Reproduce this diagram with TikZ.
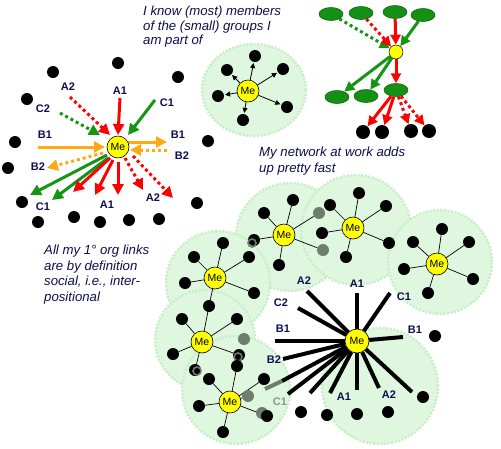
\documentclass[tikz,border=0pt]{standalone}
\usepackage{fontspec}
\setmainfont{Liberation Sans}
\usetikzlibrary{arrows.meta,shapes.geometric}
\pgfdeclarelayer{bg}\pgfdeclarelayer{mid}\pgfsetlayers{bg,mid,main}
\definecolor{myred}{RGB}{255,0,0}
\definecolor{mygreen}{RGB}{20,150,20}
\definecolor{myorange}{RGB}{255,170,20}
\definecolor{grpfill}{RGB}{222,247,222}
\definecolor{grpedge}{RGB}{200,238,200}
\definecolor{dotgray}{RGB}{110,125,110}
\definecolor{navy}{RGB}{15,15,80}
\definecolor{meyellow}{RGB}{255,255,0}
\definecolor{ovgreen}{RGB}{20,145,20}
\definecolor{ovedge}{RGB}{0,90,0}
\begin{document}
\begin{tikzpicture}[x=1pt,y=-1pt,
  dot/.style={circle,fill=black,inner sep=0pt,minimum size=12pt},
  gdot/.style={circle,fill=dotgray,inner sep=0pt,minimum size=12pt},
  ring/.style={circle,draw=dotgray,line width=1.6pt,inner sep=0pt,minimum size=8pt},
  me/.style={circle,draw=black,line width=0.6pt,fill=meyellow,inner sep=0pt,minimum size=22pt,font=\fontsize{10.5}{10.5}\selectfont},
  grp/.style={circle,fill=grpfill,draw=grpedge,line width=2.4pt,dash pattern=on 2pt off 1.6pt,inner sep=0pt},
  lbl/.style={font=\bfseries\fontsize{11}{11}\selectfont,text=navy,inner sep=0pt},
  note/.style={font=\itshape\fontsize{13.2}{14.5}\selectfont,text=navy,align=left,inner sep=0pt,anchor=north west},
  sarr/.style={line width=3pt,-{Triangle[length=11pt,width=11pt]}},
  darr/.style={sarr,dash pattern=on 3pt off 3pt},
  sarrs/.style={line width=3pt,-{Triangle[length=10pt,width=10pt]}},
  darrs/.style={sarrs,dash pattern=on 3pt off 3pt},
  link/.style={line width=0.7pt,draw=black},
  bar/.style={line width=4pt,draw=black},
  tinyarr/.style={line width=0.8pt,-{Triangle[length=5pt,width=5pt]},shorten >=1pt},
  oval/.style={ellipse,fill=ovgreen,draw=ovedge,line width=0.5pt,minimum width=24pt,minimum height=13pt,inner sep=0pt},
  ydot/.style={circle,fill=meyellow,draw=black,line width=0.5pt,inner sep=0pt,minimum size=14pt},
  bdot/.style={circle,fill=black,inner sep=0pt,minimum size=14pt}]
\useasboundingbox (0,0) rectangle (501,448);
\begin{pgfonlayer}{bg}
\fill[white] (0,0) rectangle (501,448);
\node[grp,ellipse,minimum width=104pt,minimum height=92pt] (g0) at (254,90) {};
\node[grp,minimum size=108pt] (g1) at (290,237) {};
\node[grp,minimum size=110pt] (g2) at (356,230) {};
\node[grp,minimum size=104pt] (g3) at (440,262) {};
\node[grp,minimum size=104pt] (g4) at (218,283) {};
\node[grp,minimum size=100pt] (g5) at (205,340) {};
\node[grp,minimum size=108pt] (g6) at (236,390) {};
\node[grp,minimum size=116pt] (g7) at (380,386) {};
\end{pgfonlayer}

% ---------- notes ----------
\node[note] (n1) at (143,6) {I know (most) members\\of the (small) groups I\\am part of};
\node[note,font=\itshape\fontsize{13.2}{16}\selectfont] (n2) at (259,147) {My network at work adds\\up pretty fast};
\node[note,font=\itshape\fontsize{13.2}{15.6}\selectfont] (n3) at (44,245) {All my 1° org links\\are by definition\\social, i.e., inter-\\positional};

% ---------- left cluster ----------
\node[me] (meL) at (118,147) {Me};
\node[dot] (dL1) at (53,72) {};
\node[dot] (dL2) at (118,63) {};
\node[dot] (dL3) at (178,77) {};
\node[dot] (dL4) at (27,99) {};
\node[dot] (dL5) at (15,142) {};
\node[dot] (dL6) at (8,168) {};
\node[dot] (dL7) at (22,202) {};
\node[dot] (dL8) at (38,222) {};
\node[dot] (dL9) at (74,217) {};
\node[dot] (dL10) at (100,222) {};
\node[dot] (dL11) at (129,220) {};
\node[dot] (dL12) at (159,219) {};
\node[dot] (dL13) at (197,203) {};
\node[dot] (dL14) at (208,141) {};
\node[lbl] (lA2) at (68,87) {A2};
\node[lbl] (lA1) at (120,91) {A1};
\node[lbl] (lC1) at (167,103) {C1};
\node[lbl] (lC2) at (43,109) {C2};
\node[lbl] (lB1) at (45,135) {B1};
\node[lbl] (lB1r) at (178,135) {B1};
\node[lbl] (lB2r) at (182,156) {B2};
\node[lbl] (lB2) at (38,167) {B2};
\node[lbl] (lC1b) at (43,207) {C1};
\node[lbl] (lA1b) at (107,205) {A1};
\node[lbl] (lA2b) at (153,198) {A2};
\coordinate (sa) at (70,97);   \coordinate (ta) at (110,135);
\coordinate (sb) at (120,98);  \coordinate (tb) at (118,135);
\coordinate (sc) at (155,100); \coordinate (tc) at (128,135);
\coordinate (sd) at (60,113);  \coordinate (td) at (100,135);
\coordinate (se) at (38,147);  \coordinate (te) at (105,147);
\coordinate (sf) at (128,142); \coordinate (tf) at (167,142);
\coordinate (sg) at (167,150); \coordinate (tg) at (130,150);
\coordinate (sh) at (103,153); \coordinate (th) at (47,168);
\coordinate (si) at (107,155); \coordinate (ti) at (30,195);
\coordinate (sj) at (108,158); \coordinate (tj) at (52,200);
\coordinate (sk) at (110,158); \coordinate (tk) at (73,192);
\coordinate (sl) at (113,160); \coordinate (tl) at (95,195);
\coordinate (sm) at (118,162); \coordinate (tm) at (118,195);
\coordinate (sn) at (125,158); \coordinate (tn) at (143,190);
\coordinate (so) at (133,156); \coordinate (to) at (173,198);
\begin{pgfonlayer}{mid}
\draw[darr,color=myred] (sa) -- (ta);
\draw[sarr,color=myred] (sb) -- (tb);
\draw[sarr,color=mygreen] (sc) -- (tc);
\draw[darr,color=mygreen] (sd) -- (td);
\draw[sarr,color=myorange] (se) -- (te);
\draw[sarr,color=myorange] (sf) -- (tf);
\draw[darr,color=myorange] (sg) -- (tg);
\draw[darr,color=myorange] (sh) -- (th);
\draw[sarr,color=mygreen] (si) -- (ti);
\draw[sarr,color=mygreen] (sj) -- (tj);
\draw[sarr,color=myred] (sk) -- (tk);
\draw[sarr,color=myred] (sl) -- (tl);
\draw[sarr,color=myred] (sm) -- (tm);
\draw[darr,color=myred] (sn) -- (tn);
\draw[darr,color=myred] (so) -- (to);
\end{pgfonlayer}

% ---------- small group (top middle) ----------
\node[me] (me0) at (248,91) {Me};
\node[dot] (t1) at (255,56) {};
\node[dot] (t2) at (283,69) {};
\node[dot] (t3) at (227,70) {};
\node[dot] (t4) at (218,96) {};
\node[dot] (t5) at (287,107) {};
\node[dot] (t6) at (243,120) {};
\foreach \k in {t1,t2,t3,t4,t5,t6} \draw[tinyarr] (me0) -- (\k);

% ---------- top right ----------
\node[oval] (e1) at (331,14) {};
\node[oval] (e2) at (361,13) {};
\node[oval] (e3) at (395,12) {};
\node[oval] (e4) at (423,15) {};
\node[ydot] (y0) at (396,52) {};
\node[oval] (e5) at (337,97) {};
\node[oval] (e6) at (366,96) {};
\node[oval] (e7) at (396,90) {};
\node[bdot] (b1) at (363,132) {};
\node[bdot] (b2) at (382,132) {};
\node[bdot] (b3) at (411,131) {};
\node[bdot] (b4) at (429,131) {};
\begin{pgfonlayer}{mid}
\draw[darrs,color=mygreen] (e1) -- (y0);
\draw[darrs,color=myred] (e2) -- (y0);
\draw[sarrs,color=myred] (e3) -- (y0);
\draw[sarrs,color=mygreen] (e4) -- (y0);
\draw[sarrs,color=mygreen] (y0) -- (e5);
\draw[sarrs,color=mygreen] (y0) -- (e6);
\draw[sarrs,color=myred] (y0) -- (e7);
\draw[sarrs,color=myred] (e7) -- (b1);
\draw[sarrs,color=myred] (e7) -- (b2);
\draw[darrs,color=myred] (e7) -- (b3);
\draw[darrs,color=myred] (e7) -- (b4);
\end{pgfonlayer}

% ---------- network clusters ----------
\node[me] (m1) at (284,235) {Me};
\node[me] (m2) at (353,228) {Me};
\node[me] (m3) at (437,264) {Me};
\node[me] (m4) at (215,278) {Me};
\node[me] (m5) at (202,342) {Me};
\node[me] (m6) at (230,402) {Me};
\node[dot] (c1a) at (293,200) {};
\node[dot] (c1b) at (264,213) {};
\node[dot] (c1c) at (254,240) {};
\node[ring] (r1) at (252,243) {};
\node[dot] (c1d) at (279,265) {};
\node[gdot] (c1e) at (319,213) {};
\node[gdot] (c1f) at (323,250) {};
\node[dot] (c2a) at (359,193) {};
\node[dot] (c2b) at (330,205) {};
\node[dot] (c2c) at (322,233) {};
\node[dot] (c2d) at (346,257) {};
\node[dot] (c2e) at (386,206) {};
\node[dot] (c2f) at (389,243) {};
\node[dot] (c3a) at (442,229) {};
\node[dot] (c3b) at (413,242) {};
\node[dot] (c3c) at (469,242) {};
\node[dot] (c3d) at (404,269) {};
\node[dot] (c3e) at (473,279) {};
\node[dot] (c3f) at (428,293) {};
\node[dot] (c4a) at (223,243) {};
\node[dot] (c4b) at (194,257) {};
\node[dot] (c4c) at (249,257) {};
\node[dot] (c4d) at (185,283) {};
\node[dot] (c4e) at (254,293) {};
\node[dot] (c4f) at (209,306) {};
\node[dot] (c5b) at (182,319) {};
\node[dot] (c5c) at (237,319) {};
\node[dot] (c5d) at (173,354) {};
\node[gdot] (c5g) at (244,339) {};
\node[dot] (c5e) at (239,355) {};
\node[ring] (r5e) at (238,357) {};
\node[dot] (c5f) at (195,370) {};
\node[ring] (r5f) at (197,371) {};
\node[dot] (c6a) at (237,366) {};
\node[dot] (c6b) at (209,379) {};
\node[dot] (c6c) at (264,379) {};
\node[dot] (c6d) at (199,406) {};
\node[gdot] (c6e) at (248,396) {};
\node[gdot] (c6h) at (262,413) {};
\node[dot] (c6f) at (267,416) {};
\node[dot] (c6g) at (223,432) {};
\begin{pgfonlayer}{mid}
\foreach \k in {c1a,c1b,c1c,c1d,c1e,c1f} \draw[link] (m1) -- (\k);
\foreach \k in {c2a,c2b,c2c,c2d,c2e,c2f} \draw[link] (m2) -- (\k);
\foreach \k in {c3a,c3b,c3c,c3d,c3e,c3f} \draw[link] (m3) -- (\k);
\foreach \k in {c4a,c4b,c4c,c4d,c4e,c4f} \draw[link] (m4) -- (\k);
\foreach \k in {c4f,c5b,c5c,c5d,c5e,c5f} \draw[link] (m5) -- (\k);
\foreach \k in {c6a,c6b,c6c,c6d,c6e,c6f,c6g} \draw[link] (m6) -- (\k);
\end{pgfonlayer}

% ---------- big Me ----------
\node[me,minimum size=24pt] (meB) at (357,341) {Me};
\node[dot] (dB1) at (435,336) {};
\node[dot] (dB2) at (423,397) {};
\node[dot] (dB3) at (301,412) {};
\node[dot] (dB4) at (327,415) {};
\node[dot] (dB5) at (357,414) {};
\node[dot] (dB6) at (388,412) {};
\coordinate (qA2) at (307,291);
\coordinate (qA1) at (357,293);
\coordinate (qC1) at (390,293);
\coordinate (qC2) at (298,308);
\coordinate (qB1) at (275,341);
\coordinate (qB1r) at (403,337);
\coordinate (qB2) at (283,359);
\coordinate (qX1) at (282,381);
\coordinate (qC1b) at (288,394);
\coordinate (qX2) at (310,393);
\coordinate (qX3) at (330,393);
\coordinate (qA1b) at (357,390);
\coordinate (qA2b) at (379,388);
\coordinate (qX4) at (412,392);
\coordinate (qG) at (265,389);
\begin{pgfonlayer}{mid}
\foreach \k in {qA2,qA1,qC1,qC2,qB1,qB1r,qB2,qX1,qC1b,qX2,qX3,qA1b,qA2b,qX4} \draw[bar] (meB) -- (\k);
\draw[bar,draw=dotgray] (qX1) -- (qG);
\end{pgfonlayer}
\node[lbl] (bA2) at (304,281) {A2};
\node[lbl] (bA1) at (357,284) {A1};
\node[lbl] (bC1) at (404,297) {C1};
\node[lbl] (bC2) at (281,303) {C2};
\node[lbl] (bB1) at (283,329) {B1};
\node[lbl] (bB1r) at (415,330) {B1};
\node[lbl] (bB2) at (274,360) {B2};
\node[lbl,text=dotgray!80] (bC1b) at (280,402) {C1};
\node[lbl] (bA1b) at (344,397) {A1};
\node[lbl] (bA2b) at (389,395) {A2};
\end{tikzpicture}
\end{document}
